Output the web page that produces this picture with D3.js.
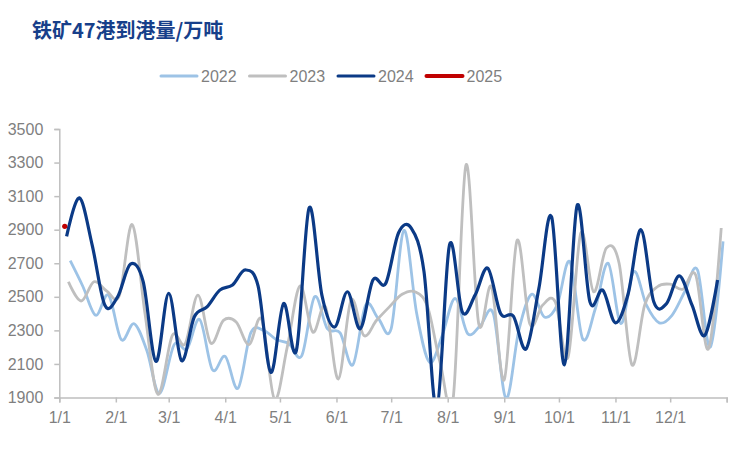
<!DOCTYPE html>
<html>
<head>
<meta charset="utf-8">
<script src="https://cdn.jsdelivr.net/npm/d3@7"></script>
<style>
  body { margin: 0; background: #fff; }
  svg text { font-family: "Liberation Sans", Arial, sans-serif; }
</style>
</head>
<body>
<svg></svg>
<script>
// weekly arrivals, 万吨
const years = ['2022', '2023', '2024', '2025'];
const colors = ['#9DC3E6', '#BFBFBF', '#0B3A86', '#C00000'];
const firstDates = ['2022-01-07', '2023-01-06', '2024-01-05', '2025-01-04'];

const values2022 = [2715, 2560, 2390, 2510, 2245, 2340, 2180, 1925, 2215, 2190, 2365, 2065, 2145,
  1955, 2285, 2300, 2245, 2220, 2150, 2500, 2310, 2285, 2095, 2450, 2370, 2310,
  2895, 2400, 2110, 2270, 2490, 2280, 2330, 2400, 1895, 2300, 2515, 2380, 2450,
  2710, 2250, 2430, 2700, 2340, 2650, 2450, 2345, 2390, 2530, 2660, 2200, 2830];
const values2023 = [2590, 2475, 2590, 2535, 2510, 2930, 2400, 1920, 2270, 2220, 2510, 2225, 2360,
  2350, 2215, 2365, 1890, 2200, 2565, 2290, 2440, 2010, 2480, 2270, 2360, 2440,
  2515, 2530, 2440, 2100, 1895, 3285, 2340, 2560, 2005, 2835, 2340, 2450, 2470,
  2140, 2880, 2530, 2790, 2700, 2095, 2450, 2560, 2575, 2545, 2630, 2190, 2910];
const values2024 = [2860, 3090, 2810, 2450, 2500, 2695, 2590, 2115, 2520, 2120, 2380, 2440, 2540,
  2570, 2660, 2565, 2050, 2460, 2180, 3030, 2510, 2320, 2530, 2310, 2600, 2580,
  2880, 2910, 2650, 1830, 2810, 2410, 2510, 2670, 2400, 2385, 2190, 2550, 2975,
  2095, 3045, 2470, 2540, 2345, 2520, 2900, 2470, 2460, 2625, 2450, 2270, 2600];
const values2025 = [2920];

const yTicks = [1900, 2100, 2300, 2500, 2700, 2900, 3100, 3300, 3500];
const title = '铁矿47港到港量/万吨';

let width = 750;
let height = 450;
let plotLeft = 59.3;
let plotRight = 726.7;
let plotTop = 129;
let plotBottom = 397.5;

let svg = d3.select('svg')
  .attr('width', width)
  .attr('height', height);

let parse = d3.timeParse('%Y-%m-%d');

// put every week onto the 2024 calendar so the years overlay
let buildSeries = (first, vals) => {
  let start = parse(first);
  return vals.map((v, i) => {
    let d = d3.timeWeek.offset(start, i);
    return { date: new Date(2024, d.getMonth(), d.getDate()), value: v };
  });
};

let series = [values2022, values2023, values2024, values2025].map((vals, i) => {
  return { year: years[i], color: colors[i], points: buildSeries(firstDates[i], vals) };
});

let xScale = d3.scaleTime()
  .domain([new Date(2024, 0, 1), new Date(2025, 0, 1)])
  .range([plotLeft, plotRight]);

let yScale = d3.scaleLinear()
  .domain([1900, 3500])
  .range([plotBottom, plotTop]);

// title
svg.append('text')
  .attr('x', 32)
  .attr('y', 38)
  .text(title)
  .style('font-family', '"Noto Sans CJK SC", sans-serif')
  .style('font-weight', 'bold')
  .style('font-size', '20px')
  .style('fill', '#173F8A');

// legend
let legend = svg.append('g').attr('transform', 'translate(161,76)');
series.forEach((s, i) => {
  let g = legend.append('g').attr('transform', 'translate(' + (i * 88.5) + ',0)');
  g.append('line')
    .attr('x1', 0).attr('x2', 36)
    .attr('stroke', s.color)
    .attr('stroke-width', s.year === '2025' ? 4 : 3)
    .attr('stroke-linecap', 'round');
  g.append('text')
    .attr('x', 40)
    .attr('dy', '0.36em')
    .text(s.year)
    .style('font-size', '16px')
    .style('fill', '#7F7F7F');
});

// axes
let monthTicks = d3.timeMonth.range(new Date(2024, 0, 1), new Date(2025, 0, 2));
let fmt = d3.timeFormat('%-m/%-d');

let xAxis = d3.axisBottom(xScale)
  .tickValues(monthTicks)
  .tickSize(5)
  .tickPadding(9)
  .tickFormat((d) => d.getFullYear() === 2024 ? fmt(d) : '');

let yAxis = d3.axisLeft(yScale)
  .tickValues(yTicks)
  .tickSize(5)
  .tickPadding(11)
  .tickFormat(d3.format('d'));

let styleAxis = (g) => {
  g.select('.domain').attr('stroke', '#BFBFBF').attr('stroke-width', 1.5);
  g.selectAll('.tick line').attr('stroke', '#BFBFBF').attr('stroke-width', 1.5);
  g.selectAll('.tick text')
    .style('font-size', '16px')
    .style('fill', '#7F7F7F')
    .style('font-family', '"Liberation Sans", Arial, sans-serif');
};

svg.append('g')
  .attr('id', 'x-axis')
  .attr('transform', 'translate(0,' + plotBottom + ')')
  .call(xAxis)
  .call(styleAxis);

svg.append('g')
  .attr('id', 'y-axis')
  .attr('transform', 'translate(' + plotLeft + ',0)')
  .call(yAxis)
  .call(styleAxis);

// lines
svg.append('clipPath')
  .attr('id', 'plot-clip')
  .append('rect')
  .attr('x', plotLeft)
  .attr('y', 0)
  .attr('width', plotRight - plotLeft + 5)
  .attr('height', plotBottom);

let line = d3.line()
  .x((d) => xScale(d.date))
  .y((d) => yScale(d.value))
  .curve(d3.curveCatmullRom.alpha(0));

let plot = svg.append('g').attr('clip-path', 'url(#plot-clip)');

series.forEach((s) => {
  if (s.points.length > 1) {
    plot.append('path')
      .datum(s.points)
      .attr('fill', 'none')
      .attr('stroke', s.color)
      .attr('stroke-width', s.year === '2024' ? 3.2 : 2.8)
      .attr('stroke-linejoin', 'round')
      .attr('d', line);
  } else {
    plot.selectAll(null)
      .data(s.points)
      .enter()
      .append('circle')
      .attr('cx', (d) => xScale(d.date))
      .attr('cy', (d) => yScale(d.value))
      .attr('r', 2.6)
      .attr('fill', s.color);
  }
});
</script>
</body>
</html>
